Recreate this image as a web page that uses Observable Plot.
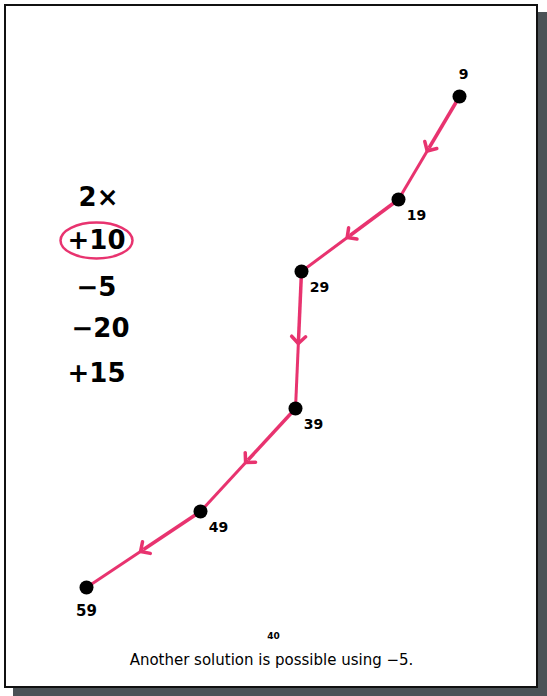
<!DOCTYPE html>
<html>
<head>
<meta charset="utf-8">
<script src="https://cdn.jsdelivr.net/npm/d3@7"></script>
<script src="https://cdn.jsdelivr.net/npm/@observablehq/plot@0.6"></script>
<style>
  html, body { margin: 0; padding: 0; background: #fff; }
  #wrap { position: relative; width: 547px; height: 696px; overflow: hidden; }
  #frame { position: absolute; left: 4px; top: 4px; width: 530px; height: 680px;
           border: 2px solid #111; background: #fff; box-shadow: 9px 8px 0 #4b5256; }
  #chart { position: absolute; left: 0; top: 0; }
</style>
</head>
<body>
<div id="wrap"><div id="frame"></div><div id="chart"></div></div>
<script>
// Path values (each step of the sequence) and their positions in the diagram
const values = [9, 19, 29, 39, 49, 59];
const posX   = [459, 398, 301, 295, 200, 86];
const posY   = [96, 199, 271, 408, 511, 587];

// Candidate operations listed on the left
const ops    = ["2×", "+10", "−5", "−20", "+15"];
const opsX   = [98, 96, 96, 100, 96];
const opsY   = [197, 240, 287, 328, 373];
const chosen = "+10";

const caption = "Another solution is possible using −5.";
const note = "40";

const nodes = values.map((v, i) => ({v, x: posX[i], y: posY[i], i}));
const firstHalf = [], secondHalf = [];
for (let i = 0; i < nodes.length - 1; i++) {
  const a = nodes[i], b = nodes[i + 1];
  const mx = (a.x + b.x) / 2, my = (a.y + b.y) / 2;
  firstHalf.push({x1: a.x, y1: a.y, x2: mx, y2: my});
  secondHalf.push({x1: mx, y1: my, x2: b.x, y2: b.y});
}
const opsData = ops.map((t, i) => ({t, x: opsX[i], y: opsY[i]}));

const pink = "#e8336f";

const ellipse = {
  draw(ctx, size) {
    const r = Math.sqrt(size / Math.PI);
    const rx = r * 2.0, ry = r, k = 0.5523;
    ctx.moveTo(rx, 0);
    ctx.bezierCurveTo(rx, ry * k, rx * k, ry, 0, ry);
    ctx.bezierCurveTo(-rx * k, ry, -rx, ry * k, -rx, 0);
    ctx.bezierCurveTo(-rx, -ry * k, -rx * k, -ry, 0, -ry);
    ctx.bezierCurveTo(rx * k, -ry, rx, -ry * k, rx, 0);
    ctx.closePath();
  }
};

const plot = Plot.plot({
  width: 547,
  height: 696,
  margin: 0,
  style: {background: "transparent", fontFamily: "DejaVu Sans, sans-serif"},
  x: {domain: [0, 547], range: [0, 547], axis: null},
  y: {domain: [0, 696], range: [0, 696], axis: null},
  marks: [
    Plot.link(firstHalf, {x1: "x1", y1: "y1", x2: "x2", y2: "y2", stroke: pink, strokeWidth: 3.5, markerEnd: "arrow"}),
    Plot.link(secondHalf, {x1: "x1", y1: "y1", x2: "x2", y2: "y2", stroke: pink, strokeWidth: 3}),
    Plot.dot(nodes, {x: "x", y: "y", r: 7, fill: "#000"}),
    Plot.text(nodes.filter(d => d.i === 0), {x: "x", y: "y", text: d => String(d.v), dx: 4, dy: -22, fontSize: 14, fontWeight: "bold", fill: "#000"}),
    Plot.text(nodes.filter(d => d.i > 0 && d.i < nodes.length - 1), {x: "x", y: "y", text: d => String(d.v), dx: 18, dy: 16, fontSize: 14, fontWeight: "bold", fill: "#000"}),
    Plot.text(nodes.filter(d => d.i === nodes.length - 1), {x: "x", y: "y", text: d => String(d.v), dx: 0, dy: 24, fontSize: 15, fontWeight: "bold", fill: "#000"}),
    Plot.text(opsData, {x: "x", y: "y", text: "t", fontSize: 26, fontWeight: "bold", fill: "#000"}),
    Plot.dot(opsData.filter(d => d.t === chosen), {x: "x", y: "y", r: 18, symbol: ellipse, stroke: pink, strokeWidth: 2.5, fill: "none"}),
    Plot.text([note], {x: 273, y: 636, text: d => d, fontSize: 9, fontWeight: "bold", fill: "#000"}),
    Plot.text([caption], {x: 271, y: 660, text: d => d, fontSize: 15, fill: "#000"})
  ]
});
document.getElementById("chart").appendChild(plot);
</script>
</body>
</html>
